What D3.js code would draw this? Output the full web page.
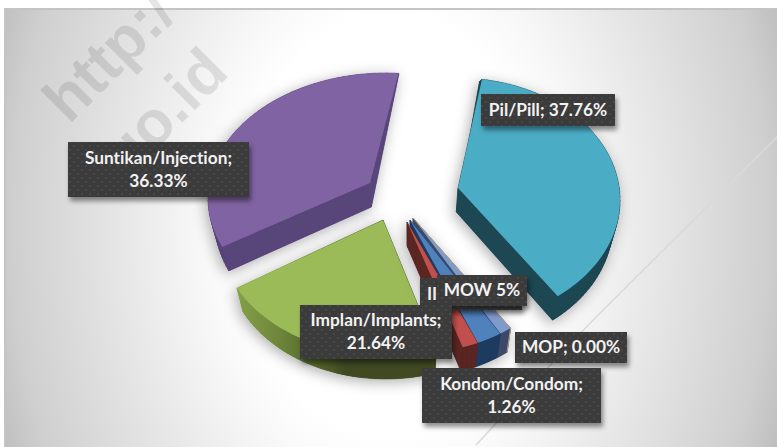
<!DOCTYPE html>
<html>
<head>
<meta charset="utf-8">
<script src="https://cdn.jsdelivr.net/npm/d3@7"></script>
<style>
html,body{margin:0;padding:0;background:#fff;overflow:hidden}
svg{display:block}
</style>
</head>
<body>
<svg id="c" width="777" height="447"></svg>
<script>
// ---- data ----
const categories = ["Pil/Pill","MOP","MOW","IUD","Kondom/Condom","Implan/Implants","Suntikan/Injection"];
const shares     = [37.76, 0.00, 1.00, 2.01, 1.26, 21.64, 36.33];
const labelLines = [
  ["Pil/Pill; 37.76%"],
  ["MOP; 0.00%"],
  ["MOW 5%"],
  ["II"],
  ["Kondom/Condom;","1.26%"],
  ["Implan/Implants;","21.64%"],
  ["Suntikan/Injection;","36.33%"]
];
const watermarkLines = ["http:/","go.id"];

// ---- presentation ----
const W = 777, H = 447;
const rad = d => d * Math.PI / 180;
const topColor  = {"Pil/Pill":"#4bacc6","MOP":"#8aa0cc","MOW":"#7f9bcb","IUD":"#4f81bd","Kondom/Condom":"#c0504d","Implan/Implants":"#9bbb59","Suntikan/Injection":"#8064a2"};
const sideColor = {"Pil/Pill":"#1f4752","MOP":"#3c4a6a","MOW":"#3c4a6a","IUD":"#1e3a5f","Kondom/Condom":"#5a2523","Implan/Implants":"url(#greenSide)","Suntikan/Injection":"#59447a"};
const groupOf   = {"Pil/Pill":"pil","MOP":"small","MOW":"small","IUD":"small","Kondom/Condom":"small","Implan/Implants":"implan","Suntikan/Injection":"suntik"};
// each exploded group: apex, ellipse centre and radii, plus the perspective adjustment of its angles
const groups = {
  pil:    {apex:[458,188], ec:[458,200], rx:162, ry:122, shift:-.72, k:.982},
  small:  {apex:[410,220], ec:[409,232], rx:165, ry:122, shift:-.13, k:1.234},
  implan: {apex:[383,220], ec:[385,235], rx:165, ry:120, shift:4.63, k:1.05},
  suntik: {apex:[370,183], ec:[386,198], rx:178, ry:125, shift:2.9,  k:.895}
};
const apexBySlice = {"MOW":[413,218],"IUD":[410,220],"Kondom/Condom":[407,222]};
const labelBoxes = {
  "Pil/Pill":[481,94,134,32],
  "MOP":[515,332,112,31],
  "MOW":[437,275,90,31],
  "IUD":[420,278,102,32],
  "Kondom/Condom":[422,368,179,55],
  "Implan/Implants":[300,305,152,54],
  "Suntikan/Injection":[68,142,181,55]
};
const labelOrder = ["Suntikan/Injection","Pil/Pill","IUD","MOW","Implan/Implants","MOP","Kondom/Condom"];
const groupOrder = ["suntik","pil","implan","small"];
const drawOrder  = ["Suntikan/Injection","Pil/Pill","Implan/Implants","MOP","MOW","IUD","Kondom/Condom"];

const svg = d3.select("#c");
const defs = svg.append("defs");

const bg = defs.append("radialGradient").attr("id","bg").attr("gradientUnits","userSpaceOnUse")
  .attr("cx",0).attr("cy",0).attr("r",1)
  .attr("gradientTransform","translate(390,225) scale(420,600)");
[[0,"#ffffff"],[.35,"#ffffff"],[.45,"#f8f8f8"],[.69,"#e2e2e2"],[.9,"#cfcfcf"],[1,"#bdbdbd"]]
  .forEach(s=>bg.append("stop").attr("offset",s[0]).attr("stop-color",s[1]));

const gs = defs.append("linearGradient").attr("id","greenSide").attr("gradientUnits","userSpaceOnUse")
  .attr("x1",237).attr("x2",345).attr("y1",0).attr("y2",0);
[[0,"#85a04a"],[.45,"#6a8138"],[1,"#3f4a20"]].forEach(s=>gs.append("stop").attr("offset",s[0]).attr("stop-color",s[1]));

const sh = defs.append("filter").attr("id","sliceShadow").attr("x","-30%").attr("y","-30%").attr("width","160%").attr("height","160%");
sh.append("feDropShadow").attr("dx",-2).attr("dy",3).attr("stdDeviation",7).attr("flood-color","#000").attr("flood-opacity",.32);

const ls = defs.append("filter").attr("id","labelShadow").attr("x","-20%").attr("y","-30%").attr("width","140%").attr("height","170%");
ls.append("feDropShadow").attr("dx",2).attr("dy",4).attr("stdDeviation",2.5).attr("flood-color","#000").attr("flood-opacity",.45);

const pat = defs.append("pattern").attr("id","dots").attr("patternUnits","userSpaceOnUse").attr("width",8).attr("height",8);
pat.append("rect").attr("width",8).attr("height",8).attr("fill","#3a3a3a");
pat.append("circle").attr("cx",2).attr("cy",2).attr("r",.9).attr("fill","#4b4b4b");
pat.append("circle").attr("cx",6).attr("cy",6).attr("r",.9).attr("fill","#4b4b4b");

// background panel
svg.append("rect").attr("x",5).attr("y",9).attr("width",W).attr("height",H)
  .attr("fill","url(#bg)").attr("stroke","#c4c4c4").attr("stroke-width",2);

// diagonal streak
svg.append("path").attr("d",d3.line().curve(d3.curveBasis)([[780,134],[717,197],[600,313],[580,333],[476,445]]))
  .attr("fill","none").attr("stroke","#d9d9d9").attr("stroke-width",1.5);

// watermark
const wmFont = "'Liberation Sans',Arial,sans-serif";
[[69,125],[126,179]].forEach((p,i)=>{
  svg.append("text").text(watermarkLines[i]).attr("transform",`translate(${p[0]},${p[1]}) rotate(-45)`)
    .attr("font-family",wmFont).attr("font-weight",700).attr("font-size",62)
    .attr("fill","#000").attr("fill-opacity",.1);
});

// pie angles
const pie = d3.pie().sort(null).value(d=>d.v).startAngle(rad(8)).endAngle(rad(368));
const arcs = pie(categories.map((c,i)=>({c,v:shares[i]})));
const byName = new Map(arcs.map(a=>[a.data.c,a]));
const extent = {};
arcs.forEach(a=>{
  const g = groupOf[a.data.c];
  if(!extent[g]) extent[g]=[a.startAngle,a.endAngle];
  extent[g][0]=Math.min(extent[g][0],a.startAngle);
  extent[g][1]=Math.max(extent[g][1],a.endAngle);
});
const mapAngle = (name,t)=>{
  const gn = groupOf[name], g = groups[gn], piv=(extent[gn][0]+extent[gn][1])/2;
  return piv + rad(g.shift) + (t-piv)*g.k;
};
const outline = a=>{
  const name=a.data.c, g=groups[groupOf[name]];
  const t0=mapAngle(name,a.startAngle), t1=mapAngle(name,a.endAngle);
  const n=Math.max(2,Math.ceil(Math.abs(t1-t0)/rad(2)));
  const pts=[apexBySlice[name]||g.apex];
  d3.range(n+1).forEach(i=>{
    const t=t0+(t1-t0)*i/n;
    pts.push([g.ec[0]+g.rx*Math.sin(t),g.ec[1]-g.ry*Math.cos(t)]);
  });
  return pts;
};
// extrusion with perspective: shallow at the far edge, converging to the centre
const depthY = d3.scaleLinear().domain([70,170]).range([0,24]).clamp(true);
const depthX = x=>(410-x)*.035;
const drop = p=>[p[0]+depthX(p[0]),p[1]+depthY(p[1])];
const line = d3.line();

const groupSel = svg.append("g").selectAll("g").data(groupOrder).join("g").attr("filter","url(#sliceShadow)");
groupSel.each(function(gn){
  const host=d3.select(this);
  drawOrder.filter(n=>groupOf[n]===gn).map(n=>byName.get(n)).filter(a=>a.value>0).forEach(d=>{
    const g=host.append("g"), pts=outline(d), name=d.data.c;
    const closed=pts.concat([pts[0]]);
    g.append("path").attr("d",line(pts.map(drop))+"Z").attr("fill",sideColor[name]);
    d3.pairs(closed).forEach(([a,b])=>{
      g.append("path").attr("d",line([a,b,drop(b),drop(a)])+"Z")
        .attr("fill",sideColor[name]).attr("stroke",sideColor[name]).attr("stroke-width",.6);
    });
    g.append("path").attr("d",line(pts)+"Z").attr("fill",topColor[name]);
    if(name==="MOW"){
      g.append("path").attr("d",line([pts[0],pts[1],drop(pts[1])])).attr("stroke","#b89a7a").attr("stroke-width",1).attr("fill","none");
    }
  });
});

// data labels
const lab = svg.append("g").selectAll("g").data(labelOrder).join("g");
lab.append("rect")
  .attr("x",d=>labelBoxes[d][0]).attr("y",d=>labelBoxes[d][1])
  .attr("width",d=>labelBoxes[d][2]).attr("height",d=>labelBoxes[d][3])
  .attr("fill","url(#dots)").attr("filter","url(#labelShadow)");
lab.each(function(d){
  const b=labelBoxes[d], lines=labelLines[categories.indexOf(d)], g=d3.select(this);
  const clipLeft = d==="IUD";
  lines.forEach((t,i)=>{
    g.append("text").text(t)
      .attr("x",clipLeft?b[0]+12:b[0]+b[2]/2)
      .attr("y",b[1]+b[3]/2+(i-(lines.length-1)/2)*23+5.5)
      .attr("text-anchor","middle")
      .style("font-variant-ligatures","none")
      .attr("font-family","Lato,'Open Sans',sans-serif").attr("font-weight",700)
      .attr("font-size",17.3).attr("fill","#f2f2f2");
  });
});
</script>
</body>
</html>
